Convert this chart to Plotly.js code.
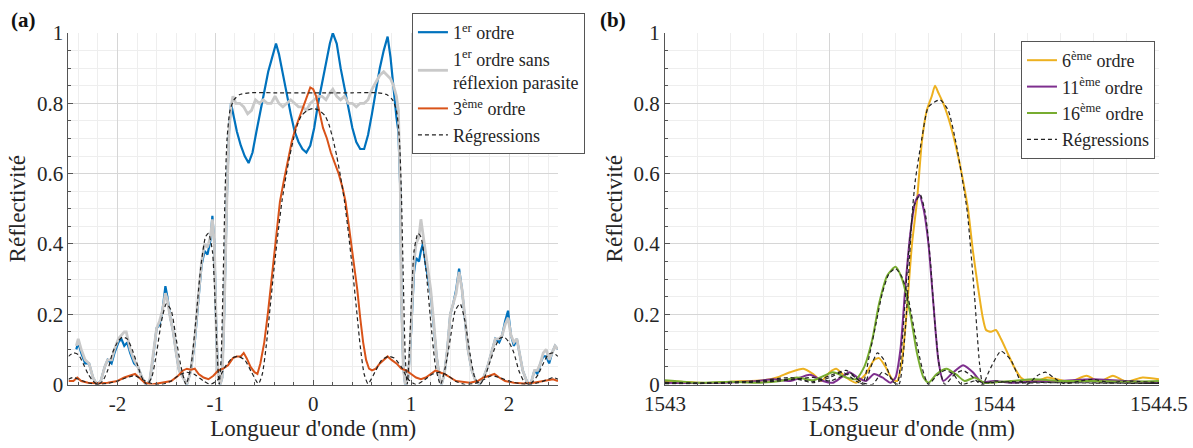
<!DOCTYPE html>
<html>
<head>
<meta charset="utf-8">
<script src="https://cdn.plot.ly/plotly-3.0.1.min.js"></script>
<style>html,body{margin:0;padding:0;background:#fff;}#chart{width:1193px;height:448px;}</style>
</head>
<body>
<div id="chart"></div>
<script>
// ---------- Panel (a): wavelength offset (nm) ----------
const blueX = [-2.42,-2.40,-2.37,-2.33,-2.29,-2.25,-2.21,-2.17,-2.13,-2.10,-2.06,-2.03,-1.99,-1.96,-1.93,-1.90,-1.87,-1.83,-1.79,-1.75,-1.71,-1.67,-1.63,-1.60,-1.57,-1.54,-1.51,-1.49,-1.46,-1.43,-1.40,-1.37,-1.33,-1.29,-1.25,-1.21,-1.17,-1.14,-1.11,-1.08,-1.05,-1.03,-1.01,-0.99,-0.97,-0.95,-0.93,-0.91,-0.88,-0.86,-0.84,-0.82,-0.78,-0.74,-0.70,-0.66,-0.62,-0.58,-0.54,-0.50,-0.46,-0.42,-0.38,-0.35,-0.31,-0.27,-0.23,-0.19,-0.15,-0.11,-0.07,-0.03,0.01,0.05,0.09,0.13,0.17,0.20,0.24,0.28,0.32,0.36,0.40,0.44,0.48,0.52,0.56,0.60,0.64,0.68,0.72,0.76,0.79,0.82,0.85,0.87,0.89,0.90,0.92,0.94,0.97,1.00,1.03,1.05,1.08,1.10,1.12,1.15,1.18,1.20,1.23,1.26,1.29,1.31,1.34,1.37,1.40,1.43,1.46,1.49,1.52,1.55,1.58,1.62,1.66,1.70,1.74,1.78,1.82,1.86,1.90,1.93,1.96,1.99,2.02,2.05,2.08,2.11,2.14,2.18,2.22,2.26,2.29,2.32,2.35,2.38,2.41,2.44,2.47,2.50];
const blueY = [0.10,0.12,0.09,0.06,0.06,0.02,0.00,0.01,0.05,0.07,0.06,0.09,0.12,0.13,0.11,0.12,0.09,0.06,0.05,0.02,0.00,0.01,0.09,0.16,0.17,0.21,0.28,0.25,0.19,0.15,0.09,0.04,0.02,0.00,0.04,0.12,0.25,0.34,0.38,0.37,0.41,0.48,0.40,0.15,0.02,0.00,0.02,0.20,0.55,0.72,0.80,0.77,0.72,0.68,0.65,0.63,0.66,0.72,0.78,0.84,0.89,0.93,0.97,0.94,0.88,0.82,0.77,0.72,0.69,0.67,0.66,0.68,0.73,0.80,0.86,0.92,0.97,1.00,0.97,0.90,0.84,0.78,0.73,0.69,0.67,0.67,0.71,0.77,0.84,0.90,0.95,0.99,0.93,0.84,0.76,0.72,0.55,0.25,0.05,0.00,0.02,0.15,0.32,0.36,0.35,0.38,0.40,0.34,0.29,0.26,0.17,0.08,0.02,0.00,0.03,0.10,0.20,0.23,0.27,0.33,0.27,0.18,0.10,0.04,0.01,0.00,0.02,0.05,0.09,0.13,0.12,0.14,0.18,0.21,0.14,0.11,0.13,0.08,0.04,0.01,0.00,0.04,0.03,0.06,0.08,0.08,0.06,0.09,0.11,0.10];

const grayX = [-2.42,-2.40,-2.37,-2.33,-2.29,-2.25,-2.21,-2.17,-2.13,-2.10,-2.06,-2.03,-1.99,-1.96,-1.93,-1.91,-1.87,-1.83,-1.79,-1.75,-1.71,-1.67,-1.63,-1.60,-1.57,-1.54,-1.51,-1.49,-1.46,-1.43,-1.40,-1.37,-1.33,-1.29,-1.25,-1.21,-1.17,-1.14,-1.11,-1.08,-1.05,-1.03,-1.01,-0.99,-0.97,-0.95,-0.93,-0.91,-0.88,-0.86,-0.84,-0.82,-0.79,-0.75,-0.71,-0.67,-0.63,-0.59,-0.55,-0.51,-0.47,-0.43,-0.39,-0.35,-0.31,-0.27,-0.23,-0.19,-0.15,-0.11,-0.07,-0.03,0.01,0.05,0.09,0.13,0.17,0.20,0.24,0.28,0.32,0.36,0.40,0.44,0.48,0.52,0.56,0.60,0.64,0.68,0.72,0.76,0.79,0.82,0.85,0.87,0.89,0.90,0.92,0.94,0.97,1.00,1.03,1.05,1.08,1.10,1.12,1.15,1.18,1.20,1.23,1.26,1.29,1.31,1.34,1.37,1.40,1.43,1.46,1.49,1.52,1.55,1.58,1.62,1.66,1.70,1.74,1.78,1.82,1.86,1.90,1.93,1.96,1.99,2.02,2.05,2.08,2.11,2.14,2.18,2.22,2.26,2.29,2.32,2.35,2.38,2.41,2.44,2.47,2.50];
const grayY = [0.11,0.13,0.10,0.07,0.06,0.02,0.00,0.01,0.05,0.07,0.07,0.10,0.13,0.14,0.15,0.15,0.10,0.07,0.05,0.02,0.00,0.01,0.09,0.16,0.18,0.21,0.26,0.24,0.19,0.15,0.09,0.04,0.02,0.00,0.04,0.13,0.26,0.35,0.40,0.39,0.42,0.47,0.40,0.15,0.02,0.00,0.02,0.20,0.55,0.72,0.79,0.82,0.80,0.80,0.79,0.77,0.78,0.81,0.80,0.81,0.80,0.80,0.82,0.80,0.79,0.80,0.81,0.80,0.79,0.79,0.78,0.80,0.81,0.82,0.82,0.81,0.83,0.84,0.82,0.81,0.82,0.80,0.80,0.79,0.80,0.80,0.81,0.84,0.86,0.88,0.89,0.88,0.87,0.85,0.82,0.78,0.55,0.25,0.05,0.00,0.02,0.16,0.35,0.40,0.42,0.47,0.43,0.37,0.31,0.27,0.18,0.08,0.02,0.00,0.03,0.10,0.20,0.23,0.26,0.32,0.27,0.19,0.10,0.04,0.01,0.00,0.02,0.05,0.09,0.13,0.13,0.14,0.17,0.19,0.14,0.12,0.13,0.09,0.04,0.01,0.00,0.04,0.04,0.06,0.09,0.10,0.07,0.09,0.11,0.10];

const orangeX = [-2.50,-2.45,-2.41,-2.37,-2.30,-2.20,-2.10,-2.00,-1.93,-1.87,-1.82,-1.78,-1.72,-1.65,-1.55,-1.45,-1.38,-1.33,-1.29,-1.25,-1.21,-1.17,-1.12,-1.07,-1.02,-0.97,-0.92,-0.87,-0.82,-0.78,-0.74,-0.71,-0.68,-0.64,-0.60,-0.57,-0.54,-0.50,-0.46,-0.42,-0.38,-0.34,-0.30,-0.26,-0.22,-0.18,-0.14,-0.10,-0.06,-0.03,0.00,0.03,0.06,0.10,0.14,0.18,0.22,0.26,0.30,0.33,0.36,0.39,0.42,0.45,0.48,0.51,0.54,0.57,0.60,0.64,0.68,0.72,0.76,0.80,0.85,0.90,0.95,1.00,1.05,1.10,1.15,1.20,1.25,1.29,1.34,1.40,1.46,1.52,1.60,1.68,1.74,1.80,1.85,1.90,1.96,2.05,2.15,2.25,2.35,2.45,2.50];
const orangeY = [0.01,0.01,0.02,0.01,0.005,0.003,0.005,0.01,0.02,0.025,0.03,0.02,0.005,0.00,0.005,0.01,0.025,0.04,0.045,0.042,0.045,0.03,0.02,0.015,0.025,0.04,0.045,0.055,0.075,0.08,0.08,0.09,0.075,0.05,0.035,0.03,0.06,0.12,0.21,0.32,0.43,0.52,0.58,0.64,0.69,0.73,0.76,0.79,0.82,0.845,0.84,0.82,0.78,0.73,0.70,0.66,0.63,0.60,0.56,0.52,0.46,0.40,0.33,0.27,0.19,0.12,0.07,0.045,0.04,0.045,0.06,0.07,0.08,0.07,0.06,0.045,0.04,0.03,0.02,0.015,0.02,0.03,0.04,0.035,0.03,0.02,0.01,0.008,0.005,0.01,0.02,0.025,0.03,0.02,0.01,0.005,0.003,0.005,0.01,0.015,0.01];

const reg1X = [-2.50,-2.45,-2.40,-2.35,-2.30,-2.25,-2.20,-2.15,-2.10,-2.05,-2.00,-1.95,-1.90,-1.85,-1.80,-1.75,-1.70,-1.65,-1.60,-1.55,-1.50,-1.45,-1.40,-1.35,-1.30,-1.25,-1.20,-1.15,-1.10,-1.07,-1.03,-1.00,-0.98,-0.96,-0.94,-0.92,-0.90,-0.88,-0.85,-0.81,-0.75,-0.65,-0.40,0.00,0.40,0.65,0.75,0.81,0.85,0.88,0.90,0.92,0.94,0.96,0.98,1.00,1.03,1.07,1.10,1.15,1.20,1.25,1.30,1.35,1.40,1.45,1.50,1.55,1.60,1.65,1.70,1.75,1.80,1.85,1.90,1.95,2.00,2.05,2.10,2.15,2.20,2.25,2.30,2.35,2.40,2.45,2.50];
const reg1Y = [0.08,0.09,0.085,0.06,0.03,0.01,0.00,0.01,0.04,0.09,0.12,0.135,0.13,0.10,0.06,0.02,0.00,0.02,0.09,0.18,0.23,0.21,0.13,0.05,0.00,0.05,0.18,0.33,0.42,0.43,0.38,0.22,0.08,0.00,0.08,0.30,0.55,0.70,0.78,0.81,0.825,0.83,0.83,0.83,0.83,0.83,0.825,0.81,0.78,0.70,0.55,0.30,0.08,0.00,0.08,0.22,0.38,0.43,0.42,0.33,0.18,0.05,0.00,0.05,0.13,0.21,0.23,0.18,0.09,0.02,0.00,0.02,0.06,0.10,0.13,0.135,0.12,0.09,0.04,0.01,0.00,0.01,0.03,0.06,0.085,0.09,0.08];

const reg3X = [-2.50,-2.45,-2.40,-2.30,-2.20,-2.10,-2.00,-1.90,-1.82,-1.75,-1.65,-1.55,-1.45,-1.38,-1.30,-1.22,-1.12,-1.05,-0.97,-0.90,-0.83,-0.77,-0.70,-0.63,-0.56,-0.52,-0.48,-0.44,-0.40,-0.36,-0.32,-0.28,-0.24,-0.20,-0.16,-0.12,-0.06,0.00,0.06,0.12,0.16,0.20,0.24,0.28,0.32,0.36,0.40,0.44,0.48,0.52,0.56,0.63,0.70,0.77,0.83,0.90,0.97,1.05,1.12,1.22,1.30,1.38,1.45,1.55,1.65,1.75,1.82,1.90,2.00,2.10,2.20,2.30,2.40,2.45,2.50];
const reg3Y = [0.015,0.02,0.015,0.005,0.00,0.003,0.01,0.02,0.025,0.015,0.003,0.00,0.01,0.025,0.035,0.03,0.01,0.00,0.015,0.05,0.075,0.08,0.07,0.035,0.002,0.03,0.11,0.22,0.33,0.43,0.52,0.59,0.65,0.70,0.74,0.765,0.78,0.785,0.78,0.765,0.74,0.70,0.65,0.59,0.52,0.43,0.33,0.22,0.11,0.03,0.002,0.035,0.07,0.08,0.075,0.05,0.015,0.00,0.01,0.03,0.035,0.025,0.01,0.00,0.003,0.015,0.025,0.02,0.01,0.003,0.00,0.005,0.015,0.02,0.015];

// ---------- Panel (b): wavelength (nm) ----------
const o6X = [1543.00,1543.05,1543.10,1543.15,1543.20,1543.25,1543.30,1543.34,1543.38,1543.42,1543.45,1543.475,1543.50,1543.52,1543.55,1543.58,1543.61,1543.635,1543.65,1543.67,1543.69,1543.705,1543.72,1543.735,1543.75,1543.765,1543.78,1543.795,1543.81,1543.82,1543.83,1543.845,1543.86,1543.875,1543.89,1543.905,1543.92,1543.935,1543.95,1543.965,1543.975,1543.99,1544.005,1544.02,1544.04,1544.06,1544.08,1544.10,1544.13,1544.16,1544.19,1544.23,1544.28,1544.32,1544.36,1544.40,1544.45,1544.50];
const o6Y = [0.01,0.008,0.005,0.005,0.008,0.01,0.012,0.02,0.035,0.045,0.03,0.01,0.035,0.045,0.02,0.005,0.03,0.07,0.075,0.05,0.015,0.01,0.07,0.22,0.40,0.52,0.69,0.78,0.82,0.85,0.83,0.80,0.76,0.71,0.65,0.58,0.50,0.38,0.28,0.19,0.155,0.15,0.155,0.13,0.09,0.05,0.02,0.01,0.01,0.02,0.015,0.008,0.025,0.008,0.025,0.008,0.02,0.015];

const o11X = [1543.00,1543.10,1543.20,1543.28,1543.33,1543.38,1543.44,1543.48,1543.51,1543.535,1543.56,1543.585,1543.61,1543.635,1543.66,1543.685,1543.70,1543.715,1543.73,1543.745,1543.76,1543.772,1543.785,1543.80,1543.815,1543.83,1543.845,1543.87,1543.905,1543.935,1543.96,1544.00,1544.05,1544.10,1544.20,1544.30,1544.40,1544.50];
const o11Y = [0.005,0.004,0.006,0.01,0.015,0.01,0.028,0.01,0.005,0.02,0.035,0.02,0.01,0.03,0.02,0.005,0.02,0.10,0.28,0.43,0.52,0.54,0.50,0.40,0.23,0.07,0.01,0.03,0.055,0.035,0.008,0.01,0.005,0.008,0.01,0.015,0.01,0.005];

const o16X = [1543.00,1543.03,1543.10,1543.20,1543.28,1543.35,1543.40,1543.45,1543.51,1543.55,1543.58,1543.605,1543.63,1543.65,1543.675,1543.70,1543.72,1543.745,1543.765,1543.785,1543.80,1543.825,1543.855,1543.885,1543.91,1543.94,1543.97,1544.05,1544.12,1544.20,1544.30,1544.40,1544.50];
const o16Y = [0.012,0.01,0.005,0.008,0.005,0.01,0.02,0.012,0.035,0.02,0.015,0.05,0.13,0.23,0.31,0.335,0.30,0.20,0.09,0.02,0.005,0.03,0.045,0.028,0.01,0.02,0.005,0.01,0.015,0.01,0.01,0.008,0.01];

const reg6X = [1543.00,1543.15,1543.30,1543.40,1543.45,1543.50,1543.54,1543.58,1543.605,1543.625,1543.645,1543.665,1543.69,1543.71,1543.73,1543.75,1543.76,1543.78,1543.80,1543.835,1543.86,1543.883,1543.90,1543.918,1543.94,1543.955,1543.965,1543.985,1544.02,1544.05,1544.08,1544.10,1544.13,1544.155,1544.18,1544.21,1544.26,1544.30,1544.35,1544.40,1544.50];
const reg6Y = [0.003,0.005,0.01,0.015,0.005,0.02,0.035,0.01,0.0,0.05,0.09,0.07,0.01,0.0,0.16,0.48,0.58,0.70,0.79,0.81,0.78,0.69,0.60,0.49,0.25,0.06,0.0,0.04,0.095,0.07,0.01,0.0,0.025,0.035,0.02,0.003,0.01,0.015,0.005,0.01,0.005];

const reg11X = [1543.00,1543.20,1543.35,1543.45,1543.50,1543.56,1543.60,1543.63,1543.66,1543.685,1543.705,1543.72,1543.74,1543.757,1543.775,1543.79,1543.805,1543.82,1543.835,1543.85,1543.88,1543.905,1543.93,1543.96,1544.00,1544.05,1544.15,1544.30,1544.50];
const reg11Y = [0.002,0.004,0.01,0.02,0.01,0.03,0.005,0.0,0.035,0.02,0.0,0.12,0.38,0.51,0.54,0.49,0.36,0.17,0.04,0.0,0.03,0.04,0.025,0.0,0.01,0.005,0.005,0.005,0.003];

const reg16X = [1543.00,1543.15,1543.30,1543.38,1543.45,1543.50,1543.55,1543.58,1543.60,1543.62,1543.64,1543.66,1543.68,1543.70,1543.72,1543.74,1543.76,1543.78,1543.80,1543.825,1543.85,1543.875,1543.90,1543.94,1543.98,1544.05,1544.20,1544.50];
const reg16Y = [0.006,0.004,0.012,0.02,0.008,0.025,0.04,0.02,0.0,0.08,0.17,0.26,0.315,0.33,0.305,0.24,0.14,0.05,0.0,0.025,0.04,0.03,0.0,0.01,0.005,0.008,0.005,0.003];

// ---------- Ticks and labels ----------
const xTickValsA = [-2, -1, 0, 1, 2];
const xTickTextA = ['-2', '-1', '0', '1', '2'];
const xTickValsB = [1543, 1543.5, 1544, 1544.5];
const xTickTextB = ['1543', '1543.5', '1544', '1544.5'];
const yTickVals = [0, 0.2, 0.4, 0.6, 0.8, 1];
const yTickText = ['0', '0.2', '0.4', '0.6', '0.8', '1'];
const xTitle = "Longueur d'onde (nm)";
const yTitle = "Réflectivité";

const SERIF = 'Liberation Serif';
const COLORS = {blue:'#0072BD', gray:'#C9C9C9', orange:'#D95319', yellow:'#EDB120', purple:'#7E2F8E', green:'#77AC30', dash:'#222222'};
const dashStyle = {color: COLORS.dash, width: 1.2, dash: '4px,3px'};

const traces = [
  {x: blueX, y: blueY, xaxis:'x', yaxis:'y', mode:'lines', name:'1<sup>er</sup> ordre', legend:'legend', line:{color:COLORS.blue, width:2.2}},
  {x: grayX, y: grayY, xaxis:'x', yaxis:'y', mode:'lines', name:'1<sup>er</sup> ordre sans<br>réflexion parasite', legend:'legend', line:{color:COLORS.gray, width:2.8}},
  {x: orangeX, y: orangeY, xaxis:'x', yaxis:'y', mode:'lines', name:'3<sup>ème</sup> ordre', legend:'legend', line:{color:COLORS.orange, width:2}},
  {x: reg1X, y: reg1Y, xaxis:'x', yaxis:'y', mode:'lines', name:'Régressions', legend:'legend', line:Object.assign({shape:'spline', smoothing:0.6}, dashStyle)},
  {x: reg3X, y: reg3Y, xaxis:'x', yaxis:'y', mode:'lines', name:'Régressions', legend:'legend', showlegend:false, line:Object.assign({shape:'spline', smoothing:0.6}, dashStyle)},
  {x: o6X, y: o6Y, xaxis:'x2', yaxis:'y2', mode:'lines', name:'6<sup>ème</sup> ordre', legend:'legend2', line:{color:COLORS.yellow, width:2, shape:'spline', smoothing:0.6}},
  {x: o11X, y: o11Y, xaxis:'x2', yaxis:'y2', mode:'lines', name:'11<sup>ème</sup> ordre', legend:'legend2', line:{color:COLORS.purple, width:2, shape:'spline', smoothing:0.6}},
  {x: o16X, y: o16Y, xaxis:'x2', yaxis:'y2', mode:'lines', name:'16<sup>ème</sup> ordre', legend:'legend2', line:{color:COLORS.green, width:2, shape:'spline', smoothing:0.6}},
  {x: reg6X, y: reg6Y, xaxis:'x2', yaxis:'y2', mode:'lines', name:'Régressions', legend:'legend2', line:Object.assign({shape:'spline', smoothing:0.6}, dashStyle)},
  {x: reg11X, y: reg11Y, xaxis:'x2', yaxis:'y2', mode:'lines', name:'Régressions', legend:'legend2', showlegend:false, line:Object.assign({shape:'spline', smoothing:0.6}, dashStyle)},
  {x: reg16X, y: reg16Y, xaxis:'x2', yaxis:'y2', mode:'lines', name:'Régressions', legend:'legend2', showlegend:false, line:Object.assign({shape:'spline', smoothing:0.6}, dashStyle)}
];

function xAxis(domain, range, vals, text, minorDtick, anchor) {
  return {
    domain: domain, range: range, anchor: anchor, automargin: false,
    tickmode: 'array', tickvals: vals, ticktext: text,
    ticks: 'inside', ticklen: 5, tickcolor: '#555', tickwidth: 1,
    showline: true, linecolor: '#555', linewidth: 1, mirror: false,
    showgrid: true, gridcolor: '#d6d6d6', gridwidth: 1, zeroline: false,
    minor: {dtick: minorDtick, tick0: 0, showgrid: true, gridcolor: '#eeeeee', ticks: 'inside', ticklen: 3, tickcolor: '#555'},
    tickfont: {family: SERIF, size: 21, color: '#262626'},
    title: {text: xTitle, font: {family: SERIF, size: 23, color: '#262626'}, standoff: 2}
  };
}
function yAxis(anchor) {
  return {
    domain: [0.1417, 0.9263], range: [0, 1], anchor: anchor, automargin: false,
    tickmode: 'array', tickvals: yTickVals, ticktext: yTickText,
    ticks: 'inside', ticklen: 5, tickcolor: '#555', tickwidth: 1,
    showline: true, linecolor: '#555', linewidth: 1, mirror: false,
    showgrid: true, gridcolor: '#d6d6d6', gridwidth: 1, zeroline: false,
    minor: {dtick: 0.05, tick0: 0, showgrid: true, gridcolor: '#eeeeee', ticks: 'inside', ticklen: 3, tickcolor: '#555'},
    tickfont: {family: SERIF, size: 21, color: '#262626'},
    title: {text: yTitle, font: {family: SERIF, size: 23, color: '#262626'}, standoff: 4}
  };
}

const legendBase = {
  xanchor: 'left', yanchor: 'top', bgcolor: '#ffffff', bordercolor: '#555', borderwidth: 1,
  font: {family: SERIF, size: 18, color: '#262626'}, tracegroupgap: 0, itemwidth: 30, traceorder: 'normal'
};

const layout = {
  width: 1193, height: 448,
  margin: {l: 0, r: 0, t: 0, b: 0},
  paper_bgcolor: '#ffffff', plot_bgcolor: '#ffffff',
  font: {family: SERIF, size: 18, color: '#262626'},
  showlegend: true,
  xaxis: xAxis([0.0574, 0.4677], [-2.5, 2.5], xTickValsA, xTickTextA, 0.2, 'y'),
  yaxis: yAxis('x'),
  xaxis2: xAxis([0.5574, 0.9715], [1543, 1544.5], xTickValsB, xTickTextB, 0.1, 'y2'),
  yaxis2: yAxis('x2'),
  legend: Object.assign({x: 0.3453, y: 0.971}, legendBase),
  legend2: Object.assign({x: 0.8558, y: 0.9085}, legendBase),
  annotations: [
    {text: '<b>(a)</b>', xref: 'paper', yref: 'paper', x: 0.0201, y: 0.955, xanchor: 'center', yanchor: 'middle', showarrow: false, font: {family: SERIF, size: 21, color: '#111'}},
    {text: '<b>(b)</b>', xref: 'paper', yref: 'paper', x: 0.514, y: 0.955, xanchor: 'center', yanchor: 'middle', showarrow: false, font: {family: SERIF, size: 21, color: '#111'}}
  ]
};

function draw() { Plotly.newPlot('chart', traces, layout, {displayModeBar: false}); }
if (document.fonts && document.fonts.load) {
  document.fonts.load('20px "Liberation Serif"').then(draw, draw);
} else { draw(); }
</script>
</body>
</html>
